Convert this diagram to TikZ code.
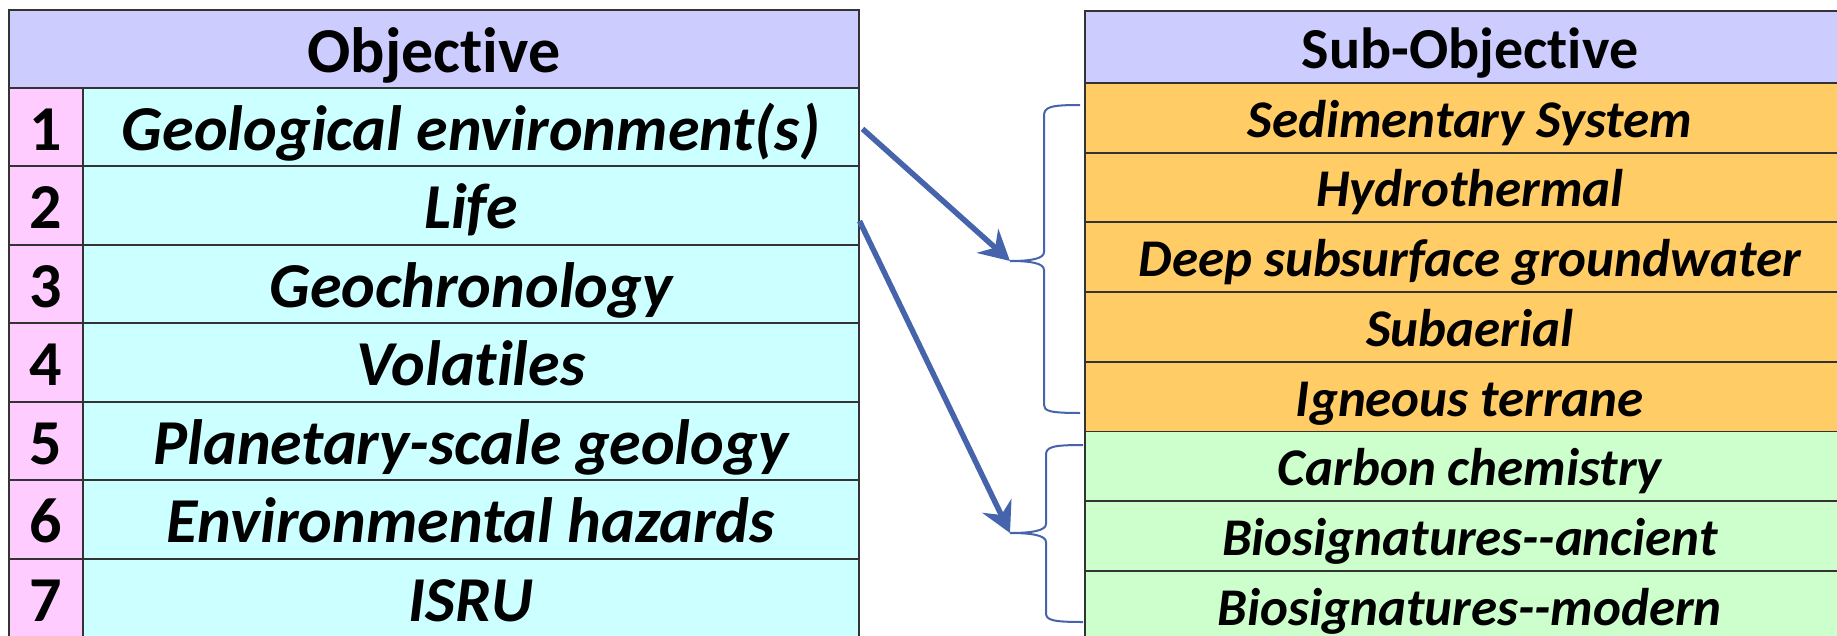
\documentclass[tikz,border=0pt]{standalone}
\usepackage{fontspec}
\setmainfont{Carlito}[Ligatures={NoCommon}]
\usetikzlibrary{arrows.meta}
\definecolor{headbg}{HTML}{CCCCFF}
\definecolor{numbg}{HTML}{FFCCFF}
\definecolor{objbg}{HTML}{CCFFFF}
\definecolor{envbg}{HTML}{FFCC66}
\definecolor{lifebg}{HTML}{CCFFCC}
\definecolor{linkblue}{HTML}{4664AC}
\definecolor{rule}{HTML}{333333}
\tikzset{
  cell/.style={draw=rule, line width=1.8pt, inner sep=0pt, anchor=north west,
               text depth=0pt},
  headcell/.style={cell, fill=headbg, text height=47pt,
                   font=\fontsize{64}{70}\selectfont\bfseries},
  numcell/.style={cell, fill=numbg, minimum width=73.3pt, minimum height=78.5pt,
                  text height=47pt, font=\fontsize{64}{70}\selectfont\bfseries},
  objcell/.style={cell, fill=objbg, minimum width=775.4pt, minimum height=78.5pt,
                  text height=47pt, font=\fontsize{64}{70}\selectfont\bfseries\itshape},
  subcell/.style={cell, minimum width=770pt, minimum height=69.7pt,
                  text height=39pt, font=\fontsize{53}{58}\selectfont\bfseries\itshape},
  envcell/.style={subcell, fill=envbg},
  lifecell/.style={subcell, fill=lifebg},
  link/.style={draw=linkblue, line width=5.5pt,
               -{Stealth[length=30pt, width=32pt, inset=10pt]}},
  brace/.style={draw=linkblue, line width=2pt}
}
\begin{document}
\begin{tikzpicture}[x=1pt, y=-1pt]
  \useasboundingbox (0,0) rectangle (1837,635);
  \clip (0,0) rectangle (1837,635);
  \fill[white] (0,0) rectangle (1837,635);

  % objectives table
  \node[headcell, minimum width=849.4pt, minimum height=77.3pt] (objhead) at (8.3,9.4) {Objective};
  \foreach \i/\t [count=\k from 0] in {1/Geological environment(s), 2/Life, 3/Geochronology,
      4/Volatiles, 5/Planetary-scale geology, 6/Environmental hazards, 7/ISRU} {
    \node[numcell] (n\i) at (8.3, 86.7+78.5*\k) {\i};
    \node[objcell] (o\i) at (82.3, 86.7+78.5*\k) {\t};
  }

  % sub-objectives table
  \node[headcell, minimum width=770pt, minimum height=72pt, text height=43pt,
        font=\fontsize{58}{64}\selectfont\bfseries]
    (subhead) at (1084,10) {Sub-Objective};
  \foreach \t [count=\k from 0] in {Sedimentary System, Hydrothermal,
      Deep subsurface groundwater, Subaerial, Igneous terrane} {
    \node[envcell] (e\k) at (1084, 82+69.7*\k) {\t};
  }
  \foreach \t [count=\k from 0] in {Carbon chemistry, Biosignatures-{}-ancient,
      Biosignatures-{}-modern} {
    \node[lifecell] (l\k) at (1084, 430.5+69.7*\k) {\t};
  }

  % braces grouping the sub-objectives
  \coordinate (envtip) at (1010,261);
  \coordinate (lifetip) at (1010,533);
  \draw[brace] (1080,105)
    .. controls (1050,105) and (1044,107) .. (1044,116)
    -- (1044,252)
    .. controls (1044,259) and (1030,261) .. (envtip)
    .. controls (1030,261) and (1044,263) .. (1044,270)
    -- (1044,405)
    .. controls (1044,411) and (1050,413) .. (1080,413);
  \draw[brace] (1083,445)
    .. controls (1052,445) and (1046,447) .. (1046,455)
    -- (1046,524)
    .. controls (1046,531) and (1030,533) .. (lifetip)
    .. controls (1030,533) and (1046,535) .. (1046,542)
    -- (1046,613)
    .. controls (1046,620) and (1052,622) .. (1083,622);

  % links from objectives to their sub-objective groups
  \draw[link] ([xshift=3pt,yshift=-2pt]o1.east) -- (envtip);
  \draw[link] (o2.north east |- 0,221) -- (lifetip);
\end{tikzpicture}
\end{document}
